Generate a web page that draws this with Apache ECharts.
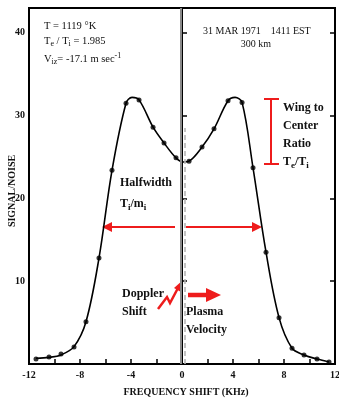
<!DOCTYPE html>
<html><head><meta charset="utf-8">
<script src="https://cdn.jsdelivr.net/npm/echarts@6/dist/echarts.min.js"></script>
<style>html,body{margin:0;padding:0;background:#fff}#c{width:339px;height:400px}</style>
</head><body><div id="c"></div>
<script>
// Observed points (frequency shift kHz, signal/noise)
const obsX = [-11.45,-10.43,-9.49,-8.47,-7.53,-6.51,-5.49,-4.39,-3.37,-2.27,-1.41,-0.47,0.55,1.57,2.51,3.61,4.71,5.57,6.59,7.61,8.63,9.57,10.59,11.53];
const obsY = [0.6,0.85,1.2,2.05,5.1,12.8,23.4,31.5,31.9,28.6,26.7,24.9,24.5,26.2,28.4,31.8,31.6,23.7,13.5,5.6,1.9,1.1,0.6,0.25];
// Fitted curve points
const fitX = [-11.45,-10.43,-9.49,-8.47,-7.53,-6.51,-5.49,-4.39,-3.92,-3.37,-2.27,-1.41,-0.47,0.1,0.55,1.57,2.51,3.61,4.16,4.71,5.57,6.59,7.61,8.63,9.57,10.59,11.53];
const fitY = [0.7,0.8,1.1,2.1,5.1,12.8,23.4,31.5,32.2,31.9,28.6,26.7,24.9,24.4,24.5,26.2,28.4,31.8,32.2,31.6,23.7,13.5,5.6,1.9,1.1,0.6,0.25];
const xTicks = [-12,-8,-4,0,4,8,12];
const yTicks = [10,20,30,40];

const chart = echarts.init(document.getElementById('c'), null, {renderer:'canvas'});
const serif = '"Liberation Serif","DejaVu Serif",serif';
const red = '#ee1c1c';
function txt(text, x, y, size, bold, extra){
  return Object.assign({type:'text', style:Object.assign({text:text, x:x, y:y, fill:'#111',
    font:(bold?'bold ':'')+size+'px '+serif, verticalAlign:'middle', align:'left'}, extra||{})});
}
const subRich = {
  n:{font:'10.5px '+serif, fill:'#111'},
  s:{font:'8px '+serif, fill:'#111', padding:[6,0,0,0]},
  p:{font:'8px '+serif, fill:'#111', padding:[0,0,6,0]}
};
const bRich = {
  n:{font:'bold 12px '+serif, fill:'#111'},
  s:{font:'bold 9px '+serif, fill:'#111', padding:[7,0,0,0]}
};
chart.setOption({
  animation:false,
  grid:{left:29, right:4, top:8, bottom:36, show:true, borderColor:'#000', borderWidth:2,
        containLabel:false, outerBoundsMode:'none'},
  xAxis:{type:'value', min:-12, max:12, interval:2,
    axisLine:{lineStyle:{color:'#000', width:2}},
    axisTick:{inside:true, length:5, lineStyle:{color:'#000', width:1.5}},
    axisLabel:{formatter:v=>xTicks.includes(v)?String(v):'', color:'#111', fontFamily:serif, fontWeight:'bold', fontSize:10, margin:6},
    splitLine:{show:false}},
  yAxis:[{type:'value', min:0, max:43, interval:10,
    axisLine:{lineStyle:{color:'#000', width:2}},
    axisTick:{inside:true, length:5, lineStyle:{color:'#000', width:1.5}},
    axisLabel:{formatter:v=>yTicks.includes(v)?String(v):'', color:'#111', fontFamily:serif, fontWeight:'bold', fontSize:10, margin:4},
    splitLine:{show:false}},
   {type:'value', position:'right', min:0, max:43, interval:10,
    axisLine:{show:true, lineStyle:{color:'#000', width:1.5}},
    axisTick:{inside:true, length:5, lineStyle:{color:'#000', width:1.5}},
    axisLabel:{show:false}, splitLine:{show:false}}],
  series:[
    {type:'line', data:fitX.map((x,i)=>[x,fitY[i]]), smooth:0.35, showSymbol:false,
     lineStyle:{color:'#000', width:1.6}, z:3,
     markLine:{silent:true, symbol:'none', label:{show:false},
       data:[
         [{coord:[-0.12,0], lineStyle:{color:'#8a8a8a', width:2, type:'solid'}},{coord:[-0.12,43]}],
         [{coord:[0.2,0], lineStyle:{color:'#b5b5b5', width:1.6, type:[5,3]}},{coord:[0.2,28.5]}]
       ]}},
    {type:'scatter', data:obsX.map((x,i)=>[x,obsY[i]]), symbolSize:5, itemStyle:{color:'#000'}, z:4}
  ],
  graphic:[
    {type:'text', x:12, y:191, rotation:Math.PI/2,
     style:{text:'SIGNAL/NOISE', x:0, y:0, align:'center', verticalAlign:'middle', fill:'#111', font:'bold 10px '+serif}},
    {type:'text', style:{x:44, y:26, verticalAlign:'middle', text:'{n|T = 1119 °K}', rich:subRich}},
    {type:'text', style:{x:44, y:41, verticalAlign:'middle', text:'{n|T}{s|e}{n| / T}{s|i}{n| = 1.985}', rich:subRich}},
    {type:'text', style:{x:44, y:59, verticalAlign:'middle', text:'{n|V}{s|iz}{n|= -17.1 m sec}{p|-1}', rich:subRich}},
    txt('31 MAR 1971    1411 EST', 203, 31, 10, false),
    txt('300 km', 256, 44, 10, false, {align:'center'}),
    {type:'line', shape:{x1:271, y1:99, x2:271, y2:164}, style:{stroke:red, lineWidth:2}},
    {type:'line', shape:{x1:264, y1:99, x2:279, y2:99}, style:{stroke:red, lineWidth:2}},
    {type:'line', shape:{x1:264, y1:164, x2:279, y2:164}, style:{stroke:red, lineWidth:2}},
    txt('Wing to', 283, 108, 12, true),
    txt('Center', 283, 126, 12, true),
    txt('Ratio', 283, 144, 12, true),
    {type:'text', style:{x:283, y:162, verticalAlign:'middle', text:'{n|T}{s|e}{n|/T}{s|i}', rich:bRich}},
    txt('Halfwidth', 120, 183, 12, true),
    {type:'text', style:{x:120, y:204, verticalAlign:'middle', text:'{n|T}{s|i}{n|/m}{s|i}', rich:bRich}},
    {type:'line', shape:{x1:175, y1:227, x2:110, y2:227}, style:{stroke:red, lineWidth:2}},
    {type:'polygon', shape:{points:[[102,227],[112,222],[112,232]]}, style:{fill:red}},
    {type:'line', shape:{x1:186, y1:227, x2:254, y2:227}, style:{stroke:red, lineWidth:2}},
    {type:'polygon', shape:{points:[[262,227],[252,222],[252,232]]}, style:{fill:red}},
    txt('Doppler', 122, 294, 12, true),
    txt('Shift', 122, 312, 12, true),
    {type:'polyline', shape:{points:[[158,309],[167,297],[170,303],[178,288]]}, style:{stroke:red, lineWidth:2.5, fill:null}},
    {type:'polygon', shape:{points:[[183,280],[174,288],[181,292]]}, style:{fill:red}},
    {type:'line', shape:{x1:188, y1:295, x2:208, y2:295}, style:{stroke:red, lineWidth:4.5}},
    {type:'polygon', shape:{points:[[221,295],[206,288],[206,302]]}, style:{fill:red}},
    txt('Plasma', 186, 312, 12, true),
    txt('Velocity', 186, 330, 12, true),
    txt('FREQUENCY SHIFT (KHz)', 186, 392, 10, true, {align:'center'})
  ]
});
</script></body></html>
